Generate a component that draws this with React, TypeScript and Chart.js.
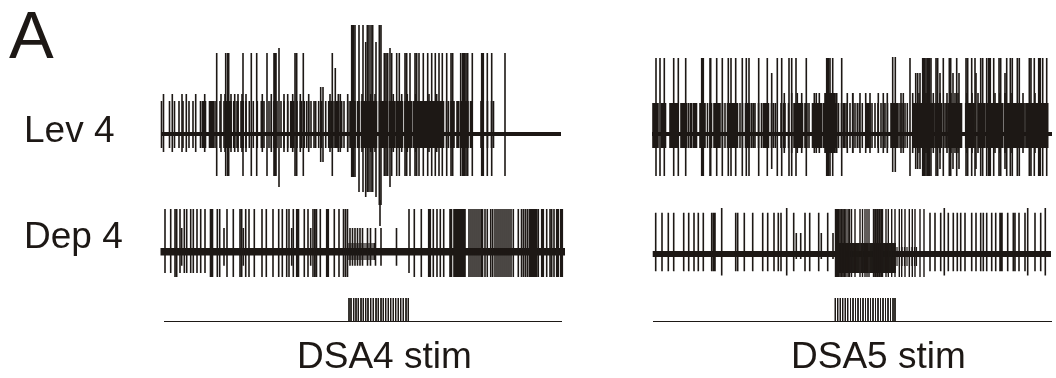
import React, { useEffect, useRef } from "react";
import { Chart, registerables } from "chart.js";

Chart.register(...registerables);

const INK = "#1d1815";

// --- Lev 4, DSA4 stim
const lev4aBaselineX = [161, 561];
const lev4aBaselineY = 134;
const lev4aSmallRange = [101, 148];
const lev4aSmallX = [161.5,169.5,174.5,179,183,189,193,200.5,202.5,204,205.5,209.5,211,212.5,214,216,220,224,226.7,229.3,231,233.7,234.7,237,238,241,242,243.3,246,249.3,253.3,257.3,261.3,262.3,264,269,271.3,274,275,277,281,284,287.7,290.7,292.2,293.7,297,300.3,301.3,303.3,304.3,306.7,308.7,311,314,315.7,318.7,321.7,325.7,328.7,330,331.7,334,336,337,338.3,340.3,341.7,344,347.7,350,351,352,353,354,355,357.5,358.5,359,361.5,362.5,363,364.5,365.5,366.5,367.5,368.5,369.5,370.5,371.5,372.5,373.5,374.5,375.5,376.5,379.5,380.5,381.5,382.5,383.5,384.5,385.5,386.5,387,389.5,390.5,391.5,392.5,393,394.5,395,397.5,398.5,400,401,402,402.5,405,406,407,408,409,410,411,411.5,413.5,414.5,415.5,416,417.5,418.5,419.5,420.5,421.5,422.5,423.5,424.5,425.5,426,427.5,428.5,429.5,430.5,431.5,432.5,433,434.5,436,437.5,439,440.5,442,443.5,446.5,448.5,451,452.5,454,457,458.5,460.5,462,463.5,465,466.5,468,470.5,472,481,483,487.5,491.5,493.5];
const lev4aMediumRange = [94, 152];
const lev4aMediumX = [163.5,172.3,182,186.3,195.7,204.7,221,225,231,234.7,238,242,246,262.3,271.3,284,287.7,292.7,300.3,308.7,330,338.3,340.3,347.7,362,370.7,375,393.3,401.7,407.3,415.7,429,436.7];
const lev4aTallRange = [53, 176];
const lev4aTallX = [216.7,225.7,227.7,228.7,243,251.3,256.7,267,274,275,276,295,296.7,303.3,332.3,384.3,386,387.7,391.7,396.7,399.3,405,406.7,410,415,416.7,419,423.3,427.7,431.7,435.3,439,442.3,446.7,451,452.7,460.7,462.7,464.3,466,467.7,472.3,481.7,483.3,487.3,491.7,505];
const lev4aLongRange = [48, 187];
const lev4aLongX = [279, 390];
const lev4aMidRange = [87, 162];
const lev4aMidX = [320.7, 323];
const lev4aOddRange = [68, 148];
const lev4aOddX = [335.3];
const lev4aBurstHighRange = [25, 177];
const lev4aBurstHighX = [351.7,353.3,355];
const lev4aBurstAllRange = [25, 192];
const lev4aBurstAllX = [359,363,367.3,369,371,372.7];
const lev4aBurstDeepRange = [42, 197];
const lev4aBurstDeepX = [365.7,376];
const lev4aBurstLowRange = [25, 205];
const lev4aBurstLowX = [379.3,381];
const lev4aTailRange = [200, 226];
const lev4aTailX = [380];

// --- Dep 4, DSA4 stim
const dep4aBaselineX = [160.5, 565];
const dep4aBaselineY = 251.7;
const dep4aEarlyRange = [209, 273];
const dep4aEarlyX = [165,170.7,180,184.3,186.7,190.7,193.3,197,200.7,205,409];
const dep4aFullRange = [209, 277];
const dep4aFullX = [175,176.7,210.5,211.5,212.5,217.3,219.7,227,233.3,240,241.7,245.7,249,254.3,262,266.3,273,278.7,282.3,286.7,289,293.3,296.7,297.5,298.5,304.3,308,313,314.8,316.5,320.3,326.7,328.3,334.3,339,343.5,345.5,347.5,414.3,421.3,428.7,430.3,433.3,437,440.3,443.7,450,451.5,454,455,456,457,458,459,460,461,462,463,464,465,469,471,473,475,477,479,481,482.5,485,487.3,490.7,492.7,495,497,499,501,503,505,507,509,511,513.3,518.3,521.5,523.5,525.5,527.5,529.5,531,532.5,533.5,534.5,535.5,536.5,538.3,541.7,543.3,546.7,550,551.7,554,556.7,558.3,560.7,562.3];
const dep4aMidRange = [228, 265.7];
const dep4aMidX = [181.7,224,243.3,291.7,310.7,350,352.5,355,357.5,360,362.5,367.5,370.5,375.5,381,396.5];
const dep4aBurstRange = [243, 260];
const dep4aBurstX = [349,351,353,355,357,359,361,363,365,367,369,371,373,374.5];

// --- Stim A
const stimBaselineY = 321.5;
const stimRange = [298, 321];
const stimABaselineX = [164, 562];
const stimAX = [349,351,353.7,356,358.3,361,363.3,365.7,368,370.7,373.3,376,378.3,381,383.3,385.7,388.3,390.7,393.3,395.7,398.3,400.7,403.3,406,408.3];

// --- Lev 4, DSA5 stim
const lev4bBaselineX = [652, 1052];
const lev4bBaselineY = 134;
const lev4bSmallRange = [103, 148];
const lev4bSmallX = [653,654,655,656,657,658,661.5,662.5,663.5,664.5,665.5,670,671,672,673,674,675,676,677,678,681,682,683,684,685,686,686.5,688.5,690.5,691.5,693.5,695,696.5,700,701,702,703,704,705,707.5,710,711.5,714,715.5,717,718.5,720,722.5,725,727.5,728.5,729.5,730.5,731.5,733,734.5,736,737.5,740,742.5,745.5,746.5,747.5,748.5,749.5,751.5,753.3,755,758.5,761.5,763.5,765,766.5,768.5,771.5,773.5,775.5,781,783.5,785,788.5,794,795,796,797,798,799,800,801,802,802.5,805,806,807,809,812.5,813.5,814.5,815.5,816.5,817.5,818.5,819.5,820.5,821.5,823.5,824.5,825.5,826.5,827.5,828.5,829.5,830.5,831.5,832.5,833.5,834.5,835.5,836.5,838.5,841.5,843.5,845,847,850,852.7,855,857.3,859.3,862.3,866.7,868.3,870,872,875,878,881,883.3,885,887.5,891,892,893,894,895,896,897,898,900,902,905,907.3,913,914,915,916,916.7,918.5,919.5,920.5,921.5,922.5,923.5,924.5,925.5,926.5,927.5,928.5,929.5,930.5,931.5,932.5,933.3,935,936,937,938,939,940,941,941.7,945,946.7,948.5,950,951.5,953,954.5,956,957.5,959,960.5,961.5,965.7,966.7,967.7,968.7,969.7,970.7,971.7,973.3,975,978.3,979.3,980.3,981.3,982.3,983.3,984.3,985,987,988,989,990,991,992,992.7,994.3,995.3,996.3,997.3,998.3,999.3,1000.3,1001.3,1002.3,1004.3,1005.3,1006.3,1007.3,1008.3,1009.3,1010.3,1011.3,1012.3,1013.3,1014.3,1015.3,1016.3,1016.7,1018.3,1019.3,1020.3,1021.3,1021.7,1023.3,1025,1026.7,1027.7,1028.7,1029.7,1030.7,1031.7,1032.7,1034.3,1035.3,1036.3,1036.7,1038.3,1039.3,1040.3,1041.3,1042.3,1043.3,1044.3,1045.3,1046.3,1047.3,1047.7];
const lev4bMediumRange = [93, 153];
const lev4bMediumX = [784.3,791.7,797.3,801.7,814.3,816.3,819.3,825,826,827,828,829,830,831,832,833,834,835,836.7,847.3,852.7,853,860,865.7,870,878.3,883.3,887.3,901,903.3,912.7,919,926,933.3,940,947,951,955,958,967,972,978,990,995,1000,1005,1012,1023,1035];
const lev4bTallRange = [58, 176];
const lev4bTallX = [656,660,664.3,673.7,678.3,685.7,701.7,703.3,710,710.7,716.7,722.3,728.3,731,735.7,742.3,746.3,749,758.7,767.3,777.3,781.7,789,791.7,796,806.3,826.7,828.3,830,832.7,841.7,910,922.7,924.3,926,927.7,929.3,931,936,937.7,943.3,949.3,950.7,956.7,966,967.7,971.7,975,980.7,982.7,986.7,988.7,990.3,993.7,999,1000.7,1006.7,1010.3,1012.3,1017.3,1019.3,1029.3,1031,1034.3,1038.7,1040.3,1042.7,1046.7];
const lev4bOddRange = [73, 169];
const lev4bOddX = [771.7,915.7,917.7,920,940,953,959,976,1005];
const lev4bWideRange = [57, 172];
const lev4bWideX = [892.7,895.3];

// --- Dep 4, DSA5 stim
const dep4bBaselineX = [652.7, 1051];
const dep4bBaselineY = 254;
const dep4bFullRange = [212.7, 271.3];
const dep4bFullX = [655.7,662,668.3,673.7,683.7,688.7,694,698.3,703.3,711.7,713.5,715,735.7,737.7,744.3,752.7,762.7,767.7,774,778.3,781,793.7,805,809.7,818.7,827.7,930,935,940.7,948.3,953.3,957.3,960.7,965,971.7,976,980.7,983.3,986.7,991.7,995.7,1000,1001,1002,1007.7,1013.3,1015,1019,1025,1035,1040.7];
const dep4bHighRange = [208, 275.5];
const dep4bHighX = [721.7,786.7,944.3,1027.7,1045.3];
const dep4bMidRange = [233, 259];
const dep4bMidX = [796.3,800.7,821.3,833];
const dep4bBurstTallRange = [209, 277];
const dep4bBurstTallX = [835.5,836.5,837.5,838.5,840,841.5,843,844.5,846,848,849.5,851.5,855,860,862.5,865,867,869,873.5,875,876,877.5,879,880,881.5,882.5,886,888.3,891.7,895,899.3,901.7,905,909.3,912.3,915,920,924];
const dep4bCoreRange = [243, 273];
const dep4bCoreX = [836,837,838,839,840,841,842,843,844,845,846,847,848,849,850,851,852,853,854,855,856,857,858,859,861,862,863,864,865,866,867,868,870,871,872,873,874,875,876,877,878,879,880,881,882,883,884,885,886,887,888,889,890,891,892,893,894,895];
const dep4bThinRange = [247, 266];
const dep4bThinX = [897,899.5,902,904.5,907,909.5,912,914.5,916.5];

// --- Stim B
const stimBBaselineX = [653, 1052];
const stimBX = [835.3,837.7,840.3,842.7,845.3,847.7,850.5,853,855.5,858,860.5,863,865.5,868,870.5,873,875.5,878,880.5,883,885.5,888,890.5,893,895];

// --- Text
const panelLabel = "A";
const rowLabels = ["Lev 4", "Dep 4"];
const stimLabels = ["DSA4 stim", "DSA5 stim"];

const spikeSet = (xs: number[], range: number[], width = 1.6) => ({
  data: xs.flatMap((x) => [{ x, y: range[0] }, { x, y: range[1] }, { x, y: null }]),
  borderColor: INK,
  borderWidth: width,
  showLine: true,
  spanGaps: false,
  pointRadius: 0,
  borderCapStyle: "butt" as const,
});

const baseSet = (xs: number[], y: number, width: number) => ({
  data: xs.map((x) => ({ x, y })),
  borderColor: INK,
  borderWidth: width,
  showLine: true,
  pointRadius: 0,
  borderCapStyle: "butt" as const,
});

const textPlugin = {
  id: "figureText",
  afterDraw(chart: any) {
    const { ctx, scales } = chart;
    const put = (s: string, x: number, y: number, size: number) => {
      ctx.font = `${size}px "Liberation Sans", Arial, sans-serif`;
      ctx.fillStyle = INK;
      ctx.textAlign = "left";
      ctx.textBaseline = "alphabetic";
      ctx.fillText(s, scales.x.getPixelForValue(x), scales.y.getPixelForValue(y));
    };
    ctx.save();
    put(panelLabel, 9, 58, 67);
    put(rowLabels[0], 24, 142, 37);
    put(rowLabels[1], 24, 248, 37);
    put(stimLabels[0], 297, 368, 37);
    put(stimLabels[1], 791, 368, 37);
    ctx.restore();
  },
};

export default function App() {
  const ref = useRef<HTMLCanvasElement>(null);
  useEffect(() => {
    const chart = new Chart(ref.current as HTMLCanvasElement, {
      type: "scatter",
      data: {
        datasets: [
          spikeSet(lev4aSmallX, lev4aSmallRange),
          spikeSet(lev4aMediumX, lev4aMediumRange),
          spikeSet(lev4aTallX, lev4aTallRange),
          spikeSet(lev4aLongX, lev4aLongRange),
          spikeSet(lev4aMidX, lev4aMidRange),
          spikeSet(lev4aOddX, lev4aOddRange),
          spikeSet(lev4aBurstHighX, lev4aBurstHighRange),
          spikeSet(lev4aBurstAllX, lev4aBurstAllRange),
          spikeSet(lev4aBurstDeepX, lev4aBurstDeepRange),
          spikeSet(lev4aBurstLowX, lev4aBurstLowRange),
          spikeSet(lev4aTailX, lev4aTailRange),
          baseSet(lev4aBaselineX, lev4aBaselineY, 4),
          spikeSet(dep4aEarlyX, dep4aEarlyRange),
          spikeSet(dep4aFullX, dep4aFullRange),
          spikeSet(dep4aMidX, dep4aMidRange),
          spikeSet(dep4aBurstX, dep4aBurstRange, 1.2),
          baseSet(dep4aBaselineX, dep4aBaselineY, 7.5),
          spikeSet(stimAX, stimRange, 1),
          baseSet(stimABaselineX, stimBaselineY, 1),
          spikeSet(lev4bSmallX, lev4bSmallRange),
          spikeSet(lev4bMediumX, lev4bMediumRange),
          spikeSet(lev4bTallX, lev4bTallRange),
          spikeSet(lev4bOddX, lev4bOddRange),
          spikeSet(lev4bWideX, lev4bWideRange),
          baseSet(lev4bBaselineX, lev4bBaselineY, 4),
          spikeSet(dep4bFullX, dep4bFullRange),
          spikeSet(dep4bHighX, dep4bHighRange),
          spikeSet(dep4bMidX, dep4bMidRange),
          spikeSet(dep4bBurstTallX, dep4bBurstTallRange, 1.4),
          spikeSet(dep4bCoreX, dep4bCoreRange, 1),
          spikeSet(dep4bThinX, dep4bThinRange, 1.2),
          baseSet(dep4bBaselineX, dep4bBaselineY, 6),
          spikeSet(stimBX, stimRange, 1),
          baseSet(stimBBaselineX, stimBaselineY, 1),
        ] as any,
      },
      options: {
        animation: false,
        responsive: false,
        layout: { padding: 0 },
        plugins: { legend: { display: false }, tooltip: { enabled: false }, title: { display: false } },
        scales: {
          x: { type: "linear", display: false, min: 0, max: 1056 },
          y: { type: "linear", display: false, min: 0, max: 378, reverse: true },
        },
      },
      plugins: [textPlugin],
    });
    return () => chart.destroy();
  }, []);
  return (
    <div style={{ position: "fixed", left: 0, top: 0, width: 1056, height: 378, background: "#fff" }}>
      <canvas ref={ref} width={1056} height={378} style={{ display: "block" }} />
    </div>
  );
}
